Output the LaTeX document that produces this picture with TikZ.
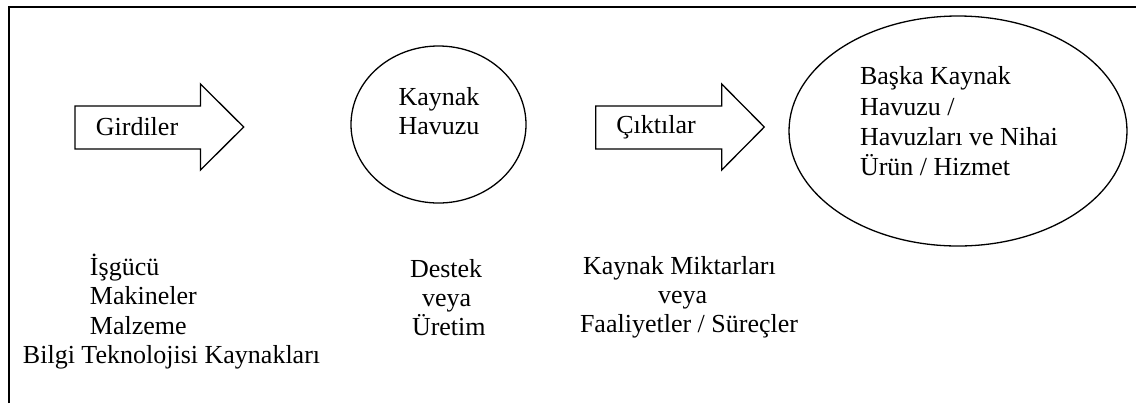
\documentclass[tikz,border=0pt]{standalone}
\usepackage{fontspec}
\setmainfont{Liberation Serif}
\usetikzlibrary{shapes.geometric}
\begin{document}
\begin{tikzpicture}[x=0.5pt,y=-0.5pt,
  txt/.style={font=\fontsize{13}{14.6}\selectfont, inner sep=0pt, outer sep=0pt},
  etxt/.style={font=\fontsize{13}{15.2}\selectfont, inner sep=0pt, outer sep=0pt},
  blockshape/.style={draw, line width=0.65pt, line join=miter},
  frameline/.style={draw, line width=1.2pt}]
\useasboundingbox (0,0) rectangle (1136,403);
% frame
\draw[frameline] (8.7,403) -- (8.7,6.7) -- (1136,6.7);
% arrow 1
\draw[blockshape] (75,106) -- (200.5,106) -- (200.5,84) -- (243.7,127) -- (200.5,170) -- (200.5,149) -- (75,149) -- cycle;
\node[txt] (girdi) at (137,127) {Girdiler};
% pool circle
\node[blockshape, ellipse, minimum width=87.5pt, minimum height=78.5pt, inner sep=0pt] (pool) at (438.5,124.5) {};
\node[txt, align=center] (poollbl) at (439,111.5) {Kaynak\\Havuzu};
% arrow 2
\draw[blockshape] (595.7,106) -- (721.7,106) -- (721.7,84) -- (764.3,127) -- (721.7,170) -- (721.7,149) -- (595.7,149) -- cycle;
\node[txt] (cikti) at (656,127) {Çıktılar};
% final ellipse
\node[blockshape, ellipse, minimum width=169pt, minimum height=115pt, inner sep=0pt] (final) at (958,131) {};
\node[etxt, align=left, anchor=west] (finallbl) at (860,121.4) {Başka Kaynak\\Havuzu /\\Havuzları ve Nihai\\Ürün / Hizmet};
% bottom texts
\node[txt, align=left, anchor=west] (inputs) at (23,311.5) {\hspace*{33.5pt}İşgücü\\\hspace*{33.5pt}Makineler\\\hspace*{33.5pt}Malzeme\\Bilgi Teknolojisi Kaynakları};
\node[txt, align=left, anchor=west] (support) at (410,297.5) {Destek\\\hspace*{6pt}veya\\\hspace*{1pt}Üretim};
\node[txt, align=left, anchor=west] (amounts) at (580,297.5) {\hspace*{1.5pt}Kaynak Miktarları\\\hspace*{39pt}veya\\Faaliyetler / Süreçler};
\end{tikzpicture}
\end{document}
